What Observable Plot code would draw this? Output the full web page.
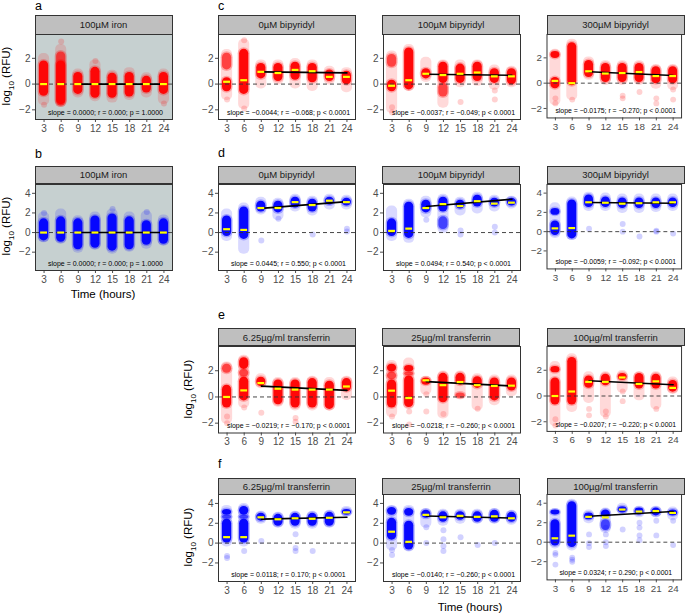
<!DOCTYPE html>
<html><head><meta charset="utf-8">
<script src="https://cdn.jsdelivr.net/npm/d3@7"></script>
<script src="https://cdn.jsdelivr.net/npm/@observablehq/plot@0.6"></script>
<style>
body{margin:0;background:#fff;font-family:"Liberation Sans",Arial,sans-serif;}
#fig{position:relative;width:685px;height:616px;overflow:hidden;background:#fff;}
.strip{position:absolute;box-sizing:border-box;background:#bfbfbf;border:1px solid #333;color:#1a1a1a;font-size:9.5px;display:flex;align-items:center;justify-content:center;}
.lab{position:absolute;font-size:12.5px;color:#000;line-height:1;}
.ytitle{position:absolute;font-size:11.5px;white-space:nowrap;transform:translate(-50%,-50%) rotate(-90deg);color:#000;}
.ytitle sub{font-size:8px;}
.xtitle{position:absolute;font-size:11.5px;white-space:nowrap;transform:translate(-50%,-50%);color:#000;}
.pl{position:absolute;}
</style></head><body><div id="fig"></div><script>
// ---------- DATA ----------
const times = [3, 6, 9, 12, 15, 18, 21, 24];
const fitTimes = [9, 24];
// clouds: [time, low, high, density(1 faint, 2 medium, 3 dense)]
// panel a: 100µM iron (red)
const ironRedClouds = [[3,-1.6,2.3,1],[3,-0.95,1.8,3],[6,-1.75,3.0,1],[6,-1.7,2.5,2],[6,-1.6,1.8,3],[9,-1.0,1.1,1],[9,-0.8,0.9,3],[12,-1.3,1.8,1],[12,-1.1,1.3,3],[15,-1.4,1.0,1],[15,-1.1,0.85,3],[18,-1.2,1.2,1],[18,-1.0,0.9,3],[21,-1.0,0.8,1],[21,-0.7,0.6,3],[24,-1.5,1.1,1],[24,-0.8,0.9,3]];
const ironRedDots = [[6,3.3],[3,-1.6],[12,1.8],[24,-1.5]];
const ironRedMedians = [0,0,0,0,0,0,0,0];
const ironRedFit = [0,0];
const ironRedStat = "slope = 0.0000; r = 0.000; p = 1.0000";
// panel b: 100µM iron (blue)
const ironBlueClouds = [[3,-0.95,2.0,1],[3,-0.85,1.4,3],[6,-1.1,2.3,1],[6,-1.0,1.6,3],[9,-2.0,1.6,1],[9,-1.75,1.4,3],[12,-1.7,2.0,1],[12,-1.6,1.7,3],[15,-2.1,2.3,1],[15,-1.9,1.9,3],[18,-1.9,2.0,1],[18,-1.75,1.6,3],[21,-1.6,2.1,1],[21,-1.3,1.2,3],[24,-1.3,1.7,1],[24,-1.2,1.4,3]];
const ironBlueDots = [[15,2.4],[21,2.1],[3,2.0]];
const ironBlueMedians = [0,0,0,0,0,0,0,0];
const ironBlueFit = [0,0];
const ironBlueStat = "slope = 0.0000; r = 0.000; p = 1.0000";
// panel c: bipyridyl (red)
const bip0RedClouds = [[3,-1.2,2.6,1],[3,1.1,2.4,2],[3,-0.6,0.5,3],[6,-1.9,3.4,1],[6,-0.8,2.7,3],[9,-0.3,1.8,1],[9,0.4,1.6,3],[12,0.0,1.8,1],[12,0.2,1.6,3],[15,-0.3,1.9,1],[15,0.3,1.7,3],[18,-0.5,1.8,1],[18,0.1,1.6,3],[21,0.0,1.3,1],[21,0.2,1.1,3],[24,-0.6,1.2,1],[24,-0.05,1.0,3]];
const bip0RedDots = [[3,-1.2],[6,-1.9],[6,3.4]];
const bip0RedMedians = [0.18,0.3,0.95,0.86,1.1,1.0,0.56,0.56];
const bip0RedFit = [0.95,0.87];
const bip0RedStat = "slope = −0.0044; r = −0.068; p < 0.0001";
const bip100RedClouds = [[3,-2.2,2.5,1],[3,1.3,2.3,2],[3,-0.6,0.3,3],[6,-0.5,3.0,1],[6,-0.45,2.8,3],[9,0.2,2.0,1],[9,0.4,1.2,3],[12,-1.8,1.8,1],[12,-1.0,0.05,2],[12,0.05,1.7,3],[15,-0.2,1.8,1],[15,0.05,1.55,3],[18,-0.1,1.8,1],[18,0.2,1.7,3],[21,-0.4,1.4,1],[21,0.05,1.2,3],[24,-0.2,1.3,1],[24,-0.05,1.2,3]];
const bip100RedDots = [[3,-1.8],[3,-2.2],[15,-1.4],[21,-1.2],[21,-0.5]];
const bip100RedMedians = [-0.13,0.3,0.8,0.7,0.8,0.9,0.6,0.6];
const bip100RedFit = [0.76,0.68];
const bip100RedStat = "slope = −0.0037; r = −0.049; p < 0.0001";
const bip300RedClouds = [[3,-1.7,2.6,1],[3,1.95,2.5,3],[3,-0.45,0.45,3],[6,-1.3,3.4,1],[6,-0.2,3.2,3],[9,0.3,2.0,1],[9,0.45,1.8,3],[12,-0.1,1.7,1],[12,0.05,1.55,3],[15,-0.1,1.7,1],[15,0.05,1.55,3],[18,-0.1,1.7,1],[18,0.05,1.55,3],[21,-0.4,1.4,1],[21,-0.05,1.3,3],[24,-0.5,1.4,1],[24,-0.05,1.3,3]];
const bip300RedDots = [[3,-1.6],[3,-1.2],[6,-1.3],[15,-1.0],[15,-1.2],[18,-0.7],[21,-1.6],[21,-1.2],[24,-1.3],[24,-0.5]];
const bip300RedMedians = [0.18,0.0,0.94,0.76,0.8,0.88,0.56,0.56];
const bip300RedFit = [0.9,0.6];
const bip300RedStat = "slope = −0.0175; r = −0.270; p < 0.0001";
// panel d: bipyridyl (blue)
const bip0BlueClouds = [[3,-0.8,2.3,1],[3,-0.4,1.7,3],[6,-2.1,2.9,1],[6,-0.7,2.6,3],[9,1.9,3.5,1],[9,2.1,3.2,3],[12,1.3,3.4,1],[12,2.0,3.2,3],[15,2.2,3.8,1],[15,2.5,3.6,3],[18,1.8,3.6,1],[18,2.1,3.4,3],[21,2.4,3.8,1],[21,2.8,3.6,3],[24,2.4,3.7,1],[24,2.7,3.5,3]];
const bip0BlueDots = [[9,-0.8],[18,-0.2],[24,0.4],[24,0.1],[12,1.4]];
const bip0BlueMedians = [0.34,0.27,2.5,2.5,3.1,2.8,3.25,3.1];
const bip0BlueFit = [2.47,3.15];
const bip0BlueStat = "slope = 0.0445; r = 0.550; p < 0.0001";
const bip100BlueClouds = [[3,-0.8,2.6,1],[3,-0.4,1.4,3],[6,-1.0,3.3,1],[6,-0.6,3.1,3],[9,1.6,3.6,1],[9,2.0,3.3,3],[12,0.0,3.8,1],[12,0.3,1.6,2],[12,2.1,3.6,3],[15,1.8,3.5,1],[15,2.4,3.3,3],[18,2.0,4.0,1],[18,2.6,3.8,3],[21,2.2,3.7,1],[21,2.6,3.5,3],[24,2.5,3.6,1],[24,2.7,3.5,3]];
const bip100BlueDots = [[9,1.3],[15,0.2],[15,-0.2],[21,0.6],[21,0.0]];
const bip100BlueMedians = [0.17,0.4,2.5,2.9,2.7,3.2,2.95,3.05];
const bip100BlueFit = [2.65,3.4];
const bip100BlueStat = "slope = 0.0494; r = 0.540; p < 0.0001";
const bip300BlueClouds = [[3,-0.6,2.9,1],[3,1.7,2.4,3],[3,-0.4,1.1,3],[6,-0.8,3.5,1],[6,-0.75,3.3,3],[9,2.2,4.0,1],[9,2.5,3.8,3],[12,2.2,3.9,1],[12,2.5,3.6,3],[15,2.0,3.8,1],[15,2.4,3.5,3],[18,2.0,3.8,1],[18,2.4,3.5,3],[21,2.1,3.8,1],[21,2.4,3.5,3],[24,2.2,3.8,1],[24,2.5,3.5,3]];
const bip300BlueDots = [[9,0.3],[15,0.8],[15,0.0],[18,-0.5],[21,0.0],[21,0.1],[24,-0.2]];
const bip300BlueMedians = [0.34,0.37,3.05,3.0,2.9,2.95,3.05,3.05];
const bip300BlueFit = [3.03,2.94];
const bip300BlueStat = "slope = −0.0059; r = −0.092; p < 0.0001";
// panel e: transferrin (red)
const tf6RedClouds = [[3,-2.0,2.6,1],[3,1.8,2.5,2],[3,-0.85,0.9,3],[6,-0.8,3.1,1],[6,2.1,3.0,3],[6,1.5,2.1,2],[6,-0.3,1.5,3],[9,0.7,1.7,1],[9,0.8,1.5,3],[12,-0.7,1.4,1],[12,-0.6,1.3,3],[15,-1.0,1.4,1],[15,-0.85,1.3,3],[18,-1.0,1.5,1],[18,-0.85,1.4,3],[21,-1.0,1.4,1],[21,-0.95,1.2,3],[24,-0.2,1.5,1],[24,0.4,1.4,3]];
const tf6RedDots = [[3,-1.5],[3,-2.0],[6,-0.8],[9,-1.2],[15,-1.9],[15,-1.6]];
const tf6RedMedians = [0.0,0.5,1.06,0.63,0.56,0.56,0.56,0.8];
const tf6RedFit = [0.83,0.5];
const tf6RedStat = "slope = −0.0219; r = −0.170; p < 0.0001";
const tf25RedClouds = [[3,-1.5,2.7,1],[3,1.9,2.5,3],[3,1.3,1.9,2],[3,-0.85,1.3,3],[6,-0.9,2.9,1],[6,1.9,2.4,3],[6,1.6,1.9,2],[6,-0.8,1.6,3],[9,0.2,1.5,1],[9,0.9,1.45,3],[12,-1.6,1.9,1],[12,-0.45,1.8,3],[15,-0.1,1.9,1],[15,-0.1,0.3,2],[15,0.9,1.8,3],[18,-1.0,1.7,1],[18,0.65,1.55,3],[21,-0.6,1.6,1],[21,-0.3,1.45,3],[24,0.1,1.6,1],[24,0.45,1.45,3]];
const tf25RedDots = [[3,-1.5],[6,-1.1],[6,-2.1],[9,0.2],[9,-1.1],[12,-1.3],[18,-0.9]];
const tf25RedMedians = [0.48,-0.08,1.27,0.9,1.14,0.9,0.84,0.86];
const tf25RedFit = [1.17,0.84];
const tf25RedStat = "slope = −0.0218; r = −0.260; p < 0.0001";
const tf100RedClouds = [[3,-2.3,2.6,1],[3,1.8,2.3,3],[3,-0.7,1.4,3],[6,-1.2,3.2,1],[6,-0.7,3.0,3],[9,-0.5,1.8,1],[9,0.6,1.55,3],[12,-1.6,1.8,1],[12,0.8,1.7,3],[15,0.3,1.9,1],[15,1.2,1.75,3],[18,-0.3,1.8,1],[18,0.55,1.75,3],[21,-1.0,1.8,1],[21,0.55,1.7,3],[24,0.2,1.4,1],[24,0.3,1.2,3]];
const tf100RedDots = [[3,-2.3],[3,-1.8],[9,-1.0],[9,-1.5],[12,-1.2],[12,-1.6],[15,0.35],[15,-0.4],[21,-1.0]];
const tf100RedMedians = [0.0,0.35,1.1,1.1,1.44,0.94,1.14,0.63];
const tf100RedFit = [1.18,0.87];
const tf100RedStat = "slope = −0.0207; r = −0.220; p < 0.0001";
// panel f: transferrin (blue)
const tf6BlueClouds = [[3,-0.3,3.7,1],[3,2.8,3.4,3],[3,2.4,2.8,2],[3,0.0,2.4,3],[6,-0.3,3.9,1],[6,2.8,3.7,3],[6,2.4,2.8,2],[6,0.0,2.4,3],[9,2.0,3.1,1],[9,2.2,3.0,3],[12,1.6,3.0,1],[12,1.7,2.9,3],[15,1.5,3.1,1],[15,1.7,3.0,3],[18,1.5,3.1,1],[18,1.7,3.0,3],[21,1.6,3.2,1],[21,1.7,3.1,3],[24,2.7,3.6,1],[24,2.8,3.4,3]];
const tf6BlueDots = [[3,-1.3],[3,-1.5],[6,-0.8],[9,0.2],[15,0.9],[15,-0.5],[15,-0.8],[18,-0.8]];
const tf6BlueMedians = [0.6,0.6,2.6,2.4,2.5,2.45,2.55,3.1];
const tf6BlueFit = [2.42,2.6];
const tf6BlueStat = "slope = 0.0118; r = 0.170; p < 0.0001";
const tf25BlueClouds = [[3,-0.7,3.7,1],[3,2.8,3.6,3],[3,0.3,2.5,3],[6,-0.8,3.7,1],[6,2.7,3.5,3],[6,-0.7,2.2,3],[9,1.6,3.4,1],[9,2.5,3.3,3],[12,1.8,3.3,1],[12,2.1,3.15,3],[15,2.0,3.3,1],[15,2.3,3.15,3],[18,2.0,3.3,1],[18,2.1,3.15,3],[21,2.0,3.4,1],[21,2.1,3.3,3],[24,1.9,3.2,1],[24,2.1,3.1,3]];
const tf25BlueDots = [[3,-0.7],[3,-1.2],[9,1.6],[9,0.0],[12,1.3],[12,0.4],[12,-0.3],[12,-0.8],[15,0.6],[18,-0.2],[21,0.0]];
const tf25BlueMedians = [1.15,0.13,2.85,2.6,2.75,2.65,2.7,2.5];
const tf25BlueFit = [2.74,2.53];
const tf25BlueStat = "slope = −0.0140; r = −0.260; p < 0.0001";
const tf100BlueClouds = [[3,-0.6,3.3,1],[3,2.8,3.3,3],[3,-0.4,2.3,3],[6,-0.8,4.3,1],[6,-0.55,4.15,3],[9,2.0,3.2,1],[9,2.3,3.0,3],[12,1.0,3.4,1],[12,1.2,2.3,2],[12,2.5,3.3,3],[15,2.9,3.9,1],[15,3.0,3.65,3],[18,2.6,3.6,1],[18,2.8,3.5,3],[21,2.6,3.6,1],[21,2.7,3.5,3],[24,2.3,3.5,1],[24,2.7,3.3,3]];
const tf100BlueDots = [[3,-1.1],[3,-1.3],[3,-2.3],[6,-1.6],[6,-2.0],[6,-1.8],[9,0.8],[9,-0.1],[9,-0.5],[12,1.5],[12,0.8],[12,0.0],[12,-0.4],[15,1.3],[18,2.0],[18,1.5],[18,0.7],[18,0.2],[21,2.2],[21,0.7],[24,2.2],[24,-0.3]];
const tf100BlueMedians = [0.4,0.67,2.6,2.55,3.35,3.15,3.2,3.0];
const tf100BlueFit = [2.66,3.15];
const tf100BlueStat = "slope = 0.0324; r = 0.290; p < 0.0001";

const panelTitles = ["100µM iron","0µM bipyridyl","100µM bipyridyl","300µM bipyridyl","6.25µg/ml transferrin","25µg/ml transferrin","100µg/ml transferrin"];

// ---------- LAYOUT ----------
const W = 137;
const colA = 35, cols = [218, 382.5, 547];
const rows = [
  {top: 34, h: 85, strip: 15, blue: false},
  {top: 183.5, h: 86, strip: 165.5, blue: true},
  {top: 345.5, h: 86.5, strip: 328, blue: false},
  {top: 494, h: 87, strip: 477.5, blue: true}
];
const panels = [
  {col: colA, row: 0, title: panelTitles[0], clouds: ironRedClouds, dots: ironRedDots, med: ironRedMedians, fit: ironRedFit, stat: ironRedStat, bg: "#c6d0d0"},
  {col: colA, row: 1, title: panelTitles[0], clouds: ironBlueClouds, dots: ironBlueDots, med: ironBlueMedians, fit: ironBlueFit, stat: ironBlueStat, bg: "#c6d0d0"},
  {col: cols[0], row: 0, title: panelTitles[1], clouds: bip0RedClouds, dots: bip0RedDots, med: bip0RedMedians, fit: bip0RedFit, stat: bip0RedStat},
  {col: cols[1], row: 0, title: panelTitles[2], clouds: bip100RedClouds, dots: bip100RedDots, med: bip100RedMedians, fit: bip100RedFit, stat: bip100RedStat},
  {col: cols[2], row: 0, title: panelTitles[3], clouds: bip300RedClouds, dots: bip300RedDots, med: bip300RedMedians, fit: bip300RedFit, stat: bip300RedStat},
  {col: cols[0], row: 1, title: panelTitles[1], clouds: bip0BlueClouds, dots: bip0BlueDots, med: bip0BlueMedians, fit: bip0BlueFit, stat: bip0BlueStat},
  {col: cols[1], row: 1, title: panelTitles[2], clouds: bip100BlueClouds, dots: bip100BlueDots, med: bip100BlueMedians, fit: bip100BlueFit, stat: bip100BlueStat},
  {col: cols[2], row: 1, title: panelTitles[3], clouds: bip300BlueClouds, dots: bip300BlueDots, med: bip300BlueMedians, fit: bip300BlueFit, stat: bip300BlueStat},
  {col: cols[0], row: 2, title: panelTitles[4], clouds: tf6RedClouds, dots: tf6RedDots, med: tf6RedMedians, fit: tf6RedFit, stat: tf6RedStat},
  {col: cols[1], row: 2, title: panelTitles[5], clouds: tf25RedClouds, dots: tf25RedDots, med: tf25RedMedians, fit: tf25RedFit, stat: tf25RedStat},
  {col: cols[2], row: 2, title: panelTitles[6], clouds: tf100RedClouds, dots: tf100RedDots, med: tf100RedMedians, fit: tf100RedFit, stat: tf100RedStat},
  {col: cols[0], row: 3, title: panelTitles[4], clouds: tf6BlueClouds, dots: tf6BlueDots, med: tf6BlueMedians, fit: tf6BlueFit, stat: tf6BlueStat},
  {col: cols[1], row: 3, title: panelTitles[5], clouds: tf25BlueClouds, dots: tf25BlueDots, med: tf25BlueMedians, fit: tf25BlueFit, stat: tf25BlueStat},
  {col: cols[2], row: 3, title: panelTitles[6], clouds: tf100BlueClouds, dots: tf100BlueDots, med: tf100BlueMedians, fit: tf100BlueFit, stat: tf100BlueStat}
];

const fig = document.getElementById("fig");
const ML = 28, MR = 4, MT = 2, MB = 22;
const minus = d => d < 0 ? "\u2212" + Math.abs(d) : String(d);
const opac = {1: 0.15, 2: 0.6, 3: 0.95};

function el(cls, html, style) {
  const d = document.createElement("div");
  d.className = cls; d.innerHTML = html;
  Object.assign(d.style, style);
  fig.appendChild(d);
  return d;
}

for (const p of panels) {
  const r = rows[p.row];
  const blue = r.blue;
  const color = blue ? "#0000ff" : "#ff0000";
  const marks = [];
  if (p.bg) marks.push(Plot.frame({fill: p.bg}));
  const hw = 0.8;
  // faint envelope
  marks.push(Plot.rect(p.clouds.filter(d => d[3] === 1), {
    x1: d => d[0] - hw, x2: d => d[0] + hw, y1: d => d[1], y2: d => d[2],
    inset: -1, fill: color, fillOpacity: opac[1], rx: 5
  }));
  // soft halo around denser parts
  marks.push(Plot.rect(p.clouds.filter(d => d[3] > 1), {
    x1: d => d[0] - hw, x2: d => d[0] + hw, y1: d => d[1], y2: d => d[2],
    inset: -1.5, fill: color, fillOpacity: 0.25, rx: 6
  }));
  for (const lvl of [2, 3]) {
    marks.push(Plot.rect(p.clouds.filter(d => d[3] === lvl), {
      x1: d => d[0] - hw, x2: d => d[0] + hw, y1: d => d[1], y2: d => d[2],
      fill: color, fillOpacity: opac[lvl], rx: 4.5
    }));
  }
  marks.push(Plot.dot(p.dots, {x: d => d[0], y: d => d[1], r: 3, fill: color, fillOpacity: 0.18}));
  marks.push(Plot.ruleY([0], {stroke: "#333", strokeDasharray: "4,3", strokeWidth: 0.9}));
  marks.push(Plot.line(fitTimes.map((t, i) => [t, p.fit[i]]), {x: d => d[0], y: d => d[1], stroke: "#000", strokeWidth: 1.6}));
  marks.push(Plot.ruleY(times.map((t, i) => [t, p.med[i]]), {y: d => d[1], x1: d => d[0] - 0.6, x2: d => d[0] + 0.6, stroke: "#ffff00", strokeWidth: 2.2}));
  marks.push(Plot.text([p.stat], {text: d => d, frameAnchor: "bottom", dy: -5, dx: 1.5, fontSize: 7, fill: "#000"}));
  marks.push(Plot.axisX({ticks: times, tickSize: 3, tickPadding: 2, fontSize: 10, color: "#4d4d4d", tickFormat: d => String(d), label: null}));
  marks.push(Plot.axisY({ticks: blue ? [-2, 0, 2, 4] : [-2, 0, 2], tickSize: 3, tickPadding: 2, fontSize: 10, color: "#4d4d4d", tickFormat: minus, label: null}));
  marks.push(Plot.frame({stroke: "#333", strokeWidth: 1}));
  const chart = Plot.plot({
    width: ML + W + MR, height: MT + r.h + MB,
    marginLeft: ML, marginRight: MR, marginTop: MT, marginBottom: MB,
    x: {domain: [1.5, 25.5], label: null},
    y: {domain: blue ? [-3.87, 4.9] : [-2.75, 3.85], label: null},
    style: {fontFamily: '"Liberation Sans", Arial, sans-serif', background: "transparent", overflow: "visible"},
    marks
  });
  const wrap = document.createElement("div");
  wrap.className = "pl";
  wrap.style.left = (p.col - ML) + "px";
  wrap.style.top = (r.top - MT) + "px";
  wrap.appendChild(chart);
  fig.appendChild(wrap);
  el("strip", p.title, {left: (p.col - 0.5) + "px", top: r.strip + "px", width: (W + 1) + "px", height: (r.top - r.strip + 0.5) + "px"});
}

// panel letters
el("lab", "a", {left: "35px", top: "0px"});
el("lab", "b", {left: "35px", top: "148px"});
el("lab", "c", {left: "218px", top: "0px"});
el("lab", "d", {left: "218px", top: "147px"});
el("lab", "e", {left: "218px", top: "309px"});
el("lab", "f", {left: "218px", top: "458px"});
// axis titles
const yTitle = "log<sub>10</sub> (RFU)";
el("ytitle", yTitle, {left: "8px", top: "76px"});
el("ytitle", yTitle, {left: "8px", top: "226px"});
el("ytitle", yTitle, {left: "190px", top: "389px"});
el("ytitle", yTitle, {left: "190px", top: "537px"});
el("xtitle", "Time (hours)", {left: "103px", top: "294px"});
el("xtitle", "Time (hours)", {left: "470px", top: "607px"});
</script></body></html>
